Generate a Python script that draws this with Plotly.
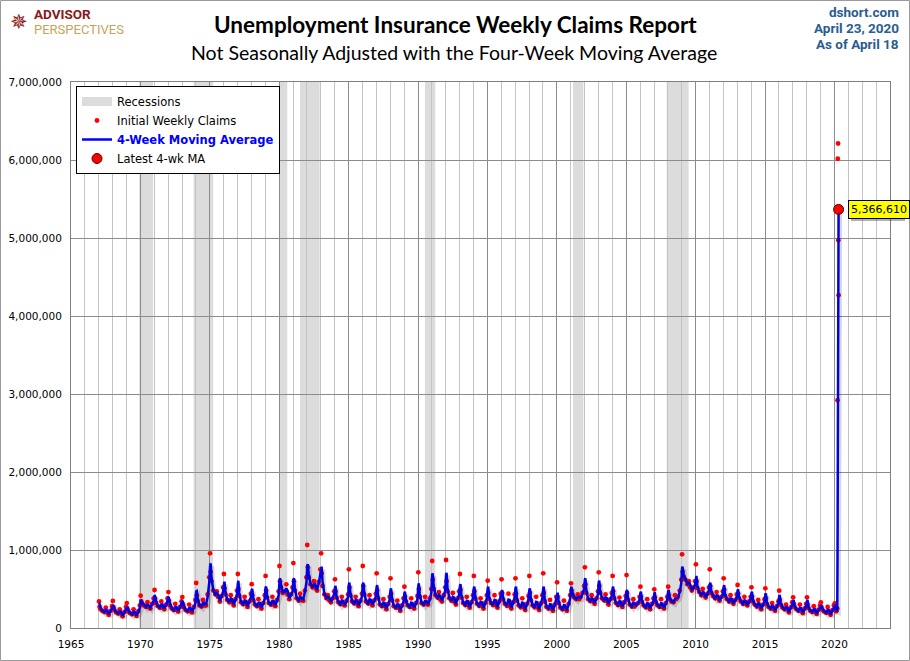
import plotly.graph_objects as go

# ---------------- data (values in thousands) ----------------
years = list(range(1967, 2020))
sample_days = ['01-08', '01-22', '02-14', '04-02', '05-27', '07-06', '08-08', '09-20', '11-06', '12-17']

claims_k = [
    [340, 270, 240, 220, 205, 260, 200, 170, 220, 280],   # 1967
    [346, 265, 230, 200, 185, 240, 185, 150, 205, 270],   # 1968
    [320, 250, 215, 190, 175, 240, 180, 155, 215, 290],   # 1969
    [414, 345, 315, 290, 270, 330, 265, 250, 310, 380],   # 1970
    [487, 375, 320, 280, 260, 340, 260, 240, 300, 380],   # 1971
    [460, 345, 290, 250, 230, 310, 230, 210, 270, 340],   # 1972
    [397, 305, 265, 230, 215, 300, 215, 200, 270, 360],   # 1973
    [577, 420, 345, 290, 275, 360, 290, 290, 430, 650],   # 1974
    [957, 720, 600, 480, 430, 470, 400, 340, 410, 520],   # 1975
    [692, 510, 430, 360, 330, 420, 330, 290, 370, 480],   # 1976
    [692, 500, 410, 330, 305, 400, 305, 270, 340, 440],   # 1977
    [562, 420, 355, 300, 280, 370, 280, 250, 320, 420],   # 1978
    [667, 480, 390, 320, 300, 400, 300, 280, 360, 470],   # 1979
    [795, 600, 520, 450, 470, 560, 430, 370, 430, 520],   # 1980
    [833, 600, 480, 380, 350, 440, 360, 350, 480, 650],   # 1981
    [1064, 780, 650, 560, 520, 600, 520, 480, 590, 750],  # 1982
    [957, 700, 540, 430, 380, 420, 360, 330, 380, 470],   # 1983
    [624, 470, 390, 330, 305, 400, 305, 290, 350, 430],   # 1984
    [752, 520, 420, 340, 315, 400, 315, 280, 350, 440],   # 1985
    [795, 540, 430, 340, 315, 420, 315, 290, 355, 440],   # 1986
    [701, 480, 380, 300, 280, 370, 280, 240, 310, 400],   # 1987
    [637, 440, 355, 280, 260, 350, 260, 220, 290, 380],   # 1988
    [530, 400, 340, 290, 270, 380, 270, 250, 320, 410],   # 1989
    [714, 500, 400, 320, 300, 400, 310, 300, 380, 500],   # 1990
    [859, 620, 500, 420, 390, 460, 370, 340, 420, 520],   # 1991
    [872, 600, 470, 380, 350, 450, 340, 300, 380, 470],   # 1992
    [692, 490, 390, 320, 295, 400, 295, 260, 330, 420],   # 1993
    [667, 470, 375, 310, 285, 380, 285, 250, 325, 420],   # 1994
    [607, 450, 370, 320, 295, 420, 295, 260, 340, 440],   # 1995
    [624, 450, 365, 310, 285, 440, 285, 250, 330, 430],   # 1996
    [637, 440, 350, 290, 265, 380, 265, 230, 310, 410],   # 1997
    [667, 450, 355, 290, 265, 400, 265, 230, 315, 420],   # 1998
    [701, 450, 340, 270, 250, 360, 250, 220, 300, 400],   # 1999
    [586, 400, 320, 260, 240, 350, 245, 220, 310, 420],   # 2000
    [573, 480, 430, 390, 370, 430, 370, 400, 450, 540],   # 2001
    [778, 560, 450, 370, 345, 420, 340, 310, 380, 470],   # 2002
    [714, 540, 450, 380, 355, 430, 345, 300, 370, 450],   # 2003
    [667, 470, 380, 320, 295, 390, 295, 270, 330, 410],   # 2004
    [679, 450, 360, 300, 275, 370, 275, 300, 320, 400],   # 2005
    [530, 400, 335, 290, 265, 370, 265, 240, 310, 380],   # 2006
    [496, 390, 330, 290, 270, 370, 270, 250, 320, 400],   # 2007
    [530, 420, 370, 340, 330, 420, 370, 400, 480, 620],   # 2008
    [945, 720, 660, 620, 560, 600, 520, 480, 520, 600],   # 2009
    [816, 600, 510, 460, 420, 500, 420, 390, 440, 520],   # 2010
    [752, 540, 450, 410, 380, 460, 380, 350, 400, 470],   # 2011
    [637, 490, 410, 370, 340, 420, 340, 310, 360, 430],   # 2012
    [551, 440, 380, 340, 310, 400, 310, 290, 340, 400],   # 2013
    [522, 400, 340, 300, 275, 360, 275, 240, 300, 370],   # 2014
    [509, 380, 310, 270, 250, 320, 245, 220, 280, 340],   # 2015
    [479, 360, 300, 260, 240, 300, 235, 200, 265, 330],   # 2016
    [393, 310, 270, 240, 220, 300, 220, 190, 250, 310],   # 2017
    [393, 300, 255, 220, 205, 280, 205, 180, 235, 290],   # 2018
    [329, 270, 235, 210, 195, 270, 195, 170, 230, 290],   # 2019
]

ma_k = [
    [300, 305, 260, 225, 205, 235, 225, 180, 215, 255],   # 1967
    [290, 295, 250, 205, 185, 215, 210, 160, 200, 245],   # 1968
    [270, 275, 235, 195, 175, 210, 205, 160, 205, 260],   # 1969
    [345, 350, 330, 295, 270, 300, 290, 260, 300, 350],   # 1970
    [420, 410, 350, 285, 260, 300, 300, 250, 290, 345],   # 1971
    [390, 385, 320, 255, 230, 270, 270, 220, 260, 310],   # 1972
    [340, 335, 285, 235, 215, 255, 260, 210, 255, 320],   # 1973
    [470, 475, 380, 295, 275, 320, 320, 295, 400, 580],   # 1974
    [790, 830, 650, 490, 430, 450, 430, 350, 400, 470],   # 1975
    [560, 594, 470, 365, 330, 380, 370, 300, 360, 440],   # 1976
    [570, 606, 450, 335, 305, 355, 350, 280, 335, 400],   # 1977
    [490, 500, 395, 305, 280, 325, 325, 260, 315, 380],   # 1978
    [520, 530, 430, 325, 300, 350, 350, 290, 350, 420],   # 1979
    [600, 640, 560, 460, 460, 510, 480, 380, 420, 470],   # 1980
    [620, 640, 520, 390, 355, 400, 390, 360, 460, 580],   # 1981
    [800, 820, 700, 570, 520, 560, 560, 490, 570, 690],   # 1982
    [750, 786, 600, 440, 385, 400, 390, 340, 375, 440],   # 1983
    [520, 540, 420, 335, 305, 355, 350, 295, 340, 400],   # 1984
    [560, 581, 460, 345, 315, 360, 355, 290, 340, 405],   # 1985
    [560, 581, 470, 345, 315, 370, 360, 300, 345, 405],   # 1986
    [530, 551, 420, 305, 280, 325, 320, 250, 300, 365],   # 1987
    [490, 509, 390, 285, 260, 305, 300, 230, 280, 345],   # 1988
    [450, 466, 370, 295, 270, 325, 320, 260, 310, 375],   # 1989
    [540, 573, 440, 325, 300, 350, 350, 305, 365, 450],   # 1990
    [680, 701, 550, 430, 390, 425, 410, 350, 410, 480],   # 1991
    [680, 709, 520, 390, 350, 400, 390, 310, 370, 430],   # 1992
    [540, 564, 430, 325, 295, 350, 345, 270, 320, 385],   # 1993
    [510, 530, 410, 315, 285, 335, 330, 260, 315, 385],   # 1994
    [510, 530, 400, 325, 295, 360, 355, 270, 330, 400],   # 1995
    [470, 487, 395, 315, 285, 365, 360, 260, 320, 395],   # 1996
    [510, 530, 385, 295, 265, 325, 320, 240, 300, 375],   # 1997
    [490, 509, 390, 295, 265, 335, 330, 240, 305, 385],   # 1998
    [510, 530, 380, 275, 250, 305, 300, 230, 290, 365],   # 1999
    [440, 453, 350, 265, 240, 295, 290, 230, 300, 380],   # 2000
    [510, 530, 450, 395, 370, 400, 390, 390, 440, 500],   # 2001
    [620, 637, 490, 375, 345, 385, 375, 320, 370, 430],   # 2002
    [590, 607, 480, 385, 355, 395, 385, 310, 360, 415],   # 2003
    [510, 530, 415, 325, 295, 345, 340, 275, 320, 380],   # 2004
    [470, 487, 390, 305, 275, 325, 320, 290, 315, 370],   # 2005
    [450, 466, 360, 295, 265, 320, 315, 250, 300, 350],   # 2006
    [440, 460, 355, 295, 270, 320, 315, 255, 310, 365],   # 2007
    [470, 487, 390, 345, 330, 375, 380, 390, 460, 570],   # 2008
    [770, 786, 690, 625, 565, 580, 560, 490, 510, 560],   # 2009
    [650, 667, 540, 465, 425, 460, 455, 395, 430, 490],   # 2010
    [560, 581, 480, 415, 380, 420, 415, 355, 390, 440],   # 2011
    [530, 551, 430, 375, 340, 380, 375, 315, 350, 400],   # 2012
    [480, 496, 400, 345, 310, 355, 350, 295, 330, 375],   # 2013
    [450, 466, 360, 305, 275, 320, 315, 245, 290, 345],   # 2014
    [430, 445, 335, 275, 250, 285, 280, 225, 270, 320],   # 2015
    [410, 423, 320, 265, 240, 270, 265, 205, 255, 310],   # 2016
    [345, 359, 285, 245, 220, 260, 255, 195, 240, 290],   # 2017
    [345, 359, 270, 225, 205, 245, 240, 185, 225, 270],   # 2018
    [290, 295, 250, 215, 195, 235, 230, 175, 220, 270],   # 2019
]

dates_2020 = ['2020-01-11', '2020-01-25', '2020-02-15', '2020-03-14', '2020-03-21',
              '2020-03-28', '2020-04-04', '2020-04-11', '2020-04-18']
claims_2020_k = [316, 250, 215, 251, 2920.16, 6015.821, 6211.399, 4971.823, 4267.395]
ma_2020_k = [290, 300, 230, 225, 900, 2351.8, 3849.7, 5030.3, 5366.61]

latest_date = '2020-04-18'
latest_ma = 5366610

recessions = [('1969-12-01', '1970-11-30'), ('1973-11-01', '1975-03-31'),
              ('1980-01-01', '1980-07-31'), ('1981-07-01', '1982-11-30'),
              ('1990-07-01', '1991-03-31'), ('2001-03-01', '2001-11-30'),
              ('2007-12-01', '2009-06-30')]

y_ticks = [0, 1000000, 2000000, 3000000, 4000000, 5000000, 6000000, 7000000]

# ---------------- build series ----------------
x_all, claims_all, ma_all = [], [], []
for yr, crow, mrow in zip(years, claims_k, ma_k):
    for md, c, m in zip(sample_days, crow, mrow):
        x_all.append(f"{yr}-{md}")
        claims_all.append(c * 1000)
        ma_all.append(m * 1000)
x_all += dates_2020
claims_all += [v * 1000 for v in claims_2020_k]
ma_all += [v * 1000 for v in ma_2020_k]

# ---------------- layout helpers ----------------
L, R, T, B = 71, 20, 82, 33
W, H = 910, 661
PW, PH = W - L - R, H - T - B
def px(x): return (x - L) / PW
def py(y): return (H - B - y) / PH

fig = go.Figure()

# legend-only recession entry
fig.add_trace(go.Scatter(x=[None], y=[None], mode='lines', name='Recessions',
                         line=dict(color='#dcdcdc', width=9)))
fig.add_trace(go.Scatter(x=x_all, y=claims_all, mode='markers', name='Initial Weekly Claims',
                         marker=dict(color='#ff0000', size=4.8, line=dict(width=0))))
# soft shadow of MA on offset overlay axes
fig.add_trace(go.Scatter(x=x_all, y=ma_all, mode='lines', showlegend=False, hoverinfo='skip',
                         line=dict(color='rgba(0,0,0,0.15)', width=4), xaxis='x2', yaxis='y2'))
fig.add_trace(go.Scatter(x=x_all, y=ma_all, mode='lines',
                         name='<span style="color:#0000ff"><b>4-Week Moving Average</b></span>',
                         line=dict(color='#0000ff', width=2.5)))
fig.add_trace(go.Scatter(x=[latest_date], y=[latest_ma], mode='markers', name='Latest 4-wk MA',
                         marker=dict(color='#ff0000', size=10, line=dict(color='#600000', width=1))))

shapes = []
for a, b in recessions:
    shapes.append(dict(type='rect', xref='x', yref='paper', x0=a, x1=b, y0=0, y1=1,
                       fillcolor='#dcdcdc', line=dict(width=0), layer='below'))
# outer frame
shapes.append(dict(type='rect', xref='paper', yref='paper',
                   x0=px(0.5), x1=px(W - 0.5), y0=py(H - 0.5), y1=py(0.5),
                   line=dict(color='#9a9a9a', width=1), fillcolor='rgba(0,0,0,0)'))
# legend shadow
shapes.append(dict(type='rect', xref='paper', yref='paper',
                   x0=px(79), x1=px(279), y0=py(171), y1=py(89),
                   line=dict(width=0), fillcolor='rgba(0,0,0,0.25)', layer='above'))
# shadow on the value label
shapes.append(dict(type='rect', xref='paper', yref='paper',
                   x0=px(851), x1=px(905), y0=py(221), y1=py(205),
                   line=dict(width=0), fillcolor='rgba(0,0,0,0.3)', layer='above'))

narrow = 'Liberation Sans Narrow, Arial Narrow, Roboto, sans-serif'
annotations = [
    dict(text='Unemployment Insurance Weekly Claims Report', x=px(455), xref='paper', xanchor='center',
         y=py(25), yref='paper', yanchor='middle', showarrow=False,
         font=dict(family='Lato', size=22.5, color='#000000', weight='bold')),
    dict(text='Not Seasonally Adjusted with the Four-Week Moving Average', x=px(454), xref='paper',
         xanchor='center', y=py(53), yref='paper', yanchor='middle', showarrow=False,
         font=dict(family='Lato', size=19.5, color='#000000')),
    dict(text='<b>dshort.com</b>', x=px(901), xref='paper', xanchor='right', y=py(12), yref='paper',
         yanchor='middle', showarrow=False, font=dict(family=narrow, size=13.5, color='#2a5d8f')),
    dict(text='<b>April 23, 2020</b>', x=px(901), xref='paper', xanchor='right', y=py(28), yref='paper',
         yanchor='middle', showarrow=False, font=dict(family=narrow, size=13.5, color='#2a5d8f')),
    dict(text='<b>As of April 18</b>', x=px(901), xref='paper', xanchor='right', y=py(44), yref='paper',
         yanchor='middle', showarrow=False, font=dict(family=narrow, size=13.5, color='#2a5d8f')),
    dict(text='<b>ADVISOR</b>', x=px(32), xref='paper', xanchor='left', y=py(14), yref='paper',
         yanchor='middle', showarrow=False, font=dict(family=narrow, size=13.5, color='#8b1a1a')),
    dict(text='PERSPECTIVES', x=px(32), xref='paper', xanchor='left', y=py(29.5), yref='paper',
         yanchor='middle', showarrow=False, font=dict(family=narrow, size=13, color='#c9a35a')),
    dict(text='✵', x=px(19), xref='paper', xanchor='center', y=py(21), yref='paper',
         yanchor='middle', showarrow=False, font=dict(size=21, color='#8b1a1a')),
    dict(text='5,366,610', x=latest_date, xref='x', y=latest_ma, yref='y', xanchor='left',
         yanchor='middle', xshift=9, showarrow=False, bgcolor='#ffff00', bordercolor='#000000',
         borderwidth=1, borderpad=2,
         font=dict(family='Tahoma, DejaVu Sans, sans-serif', size=11, color='#000000')),
]

axis_font = dict(family='Tahoma, DejaVu Sans, Verdana, sans-serif', size=10.5, color='#000000')

fig.update_layout(
    width=W, height=H, margin=dict(l=L, r=R, t=T, b=B, pad=0, autoexpand=False),
    paper_bgcolor='#ffffff', plot_bgcolor='#ffffff',
    showlegend=True,
    legend=dict(x=px(76), y=py(86), xanchor='left', yanchor='top', bgcolor='#ffffff',
                bordercolor='#000000', borderwidth=1, font=dict(family='Tahoma, DejaVu Sans, sans-serif',
                size=11.5, color='#000000'), tracegroupgap=0, itemwidth=30),
    xaxis=dict(type='date', range=['1965-01-01', '2024-01-01'], dtick='M60', tick0='1965-01-01',
               tickformat='%Y', showgrid=True, gridcolor='#8c8c8c', gridwidth=1,
               minor=dict(dtick='M12', tick0='1965-01-01', showgrid=True, gridcolor='#c4c4c4', gridwidth=1),
               showline=True, linecolor='#808080', linewidth=1, mirror=True, automargin=False,
               ticks='', tickfont=axis_font, zeroline=False, ticklabelstandoff=6),
    yaxis=dict(range=[0, 7000000], tickvals=y_ticks, tickformat=',', showgrid=True,
               gridcolor='#8c8c8c', gridwidth=1, showline=True, linecolor='#808080', linewidth=1,
               mirror=True, ticks='', tickfont=axis_font, zeroline=False, ticklabelstandoff=6,
               automargin=False),
    xaxis2=dict(type='date', overlaying='x', visible=False,
                range=['1964-11-20', '2023-11-20'], showgrid=False),
    yaxis2=dict(overlaying='y', visible=False, range=[35000, 7035000], showgrid=False),
    shapes=shapes, annotations=annotations,
)

fig.write_html('out.html', config={'displayModeBar': False},
               post_script="document.body.style.margin='0px';document.body.style.padding='0px';"
                           "document.documentElement.style.overflow='hidden';")
